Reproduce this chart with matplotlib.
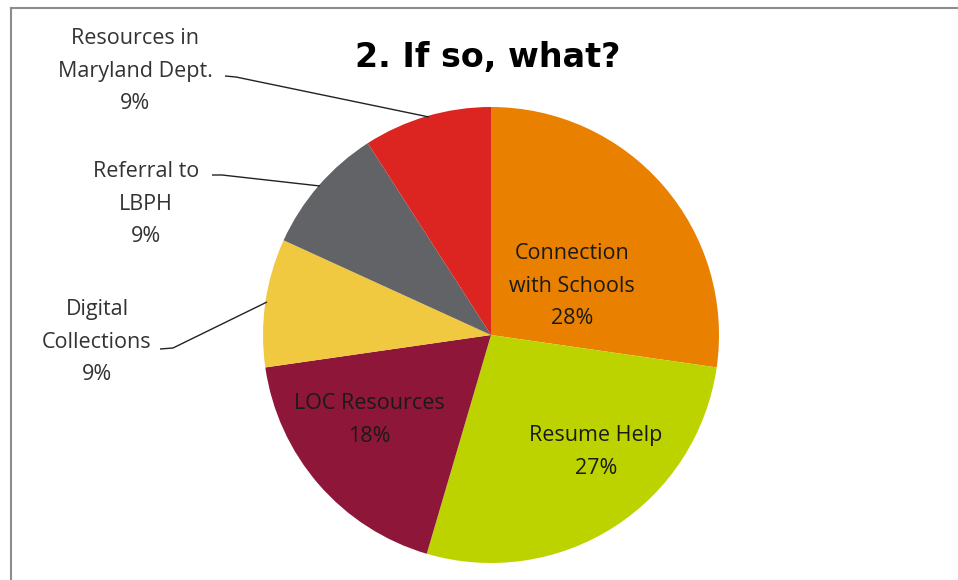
import matplotlib
matplotlib.use("Agg")
import matplotlib.pyplot as plt
from matplotlib.lines import Line2D

categories = ["Connection\nwith Schools", "Resume Help", "LOC Resources",
              "Digital\nCollections", "Referral to\nLBPH", "Resources in\nMaryland Dept."]
# respondent counts (slice angles: 3/11, 3/11, 2/11, 1/11 ...)
values = [3, 3, 2, 1, 1, 1]
pct_labels = ["28%", "27%", "18%", "9%", "9%", "9%"]
colors = ["#EA8000", "#BDD300", "#8E1638", "#F0C940", "#626367", "#DC2420"]
title = "2. If so, what?"

W, H = 958, 580
fig = plt.figure(figsize=(W / 100, H / 100), dpi=100)
ax = fig.add_axes([0, 0, 1, 1])
ax.set_xlim(0, W)
ax.set_ylim(0, H)
ax.set_aspect("equal")
ax.axis("off")

cx, cy, r = 491, H - 335, 228
ax.pie(values, colors=colors, startangle=90, counterclock=False,
       center=(cx, cy), radius=r, wedgeprops=dict(linewidth=0))
ax.set_xlim(0, W)
ax.set_ylim(0, H)

font = "Open Sans"
fs = 15.5
ls = 1.72
tc = "#1a1a1a"
oc = "#333333"

# inside labels
inside = [(0, 572, 286), (1, 596, 452), (2, 369, 420)]
for i, x, y in inside:
    ax.text(x, H - y, categories[i] + "\n" + pct_labels[i],
            ha="center", va="center", fontsize=fs, family=font, color=tc,
            linespacing=ls)

# outside labels
outside = [(5, 135, 71), (4, 146, 204), (3, 97, 342)]
for i, x, y in outside:
    ax.text(x, H - y, categories[i] + "\n" + pct_labels[i],
            ha="center", va="center", fontsize=fs, family=font, color=oc,
            linespacing=ls)

# leader lines
leaders = [
    [(225, 76), (236, 77), (429, 117)],
    [(212, 175), (222, 175), (320, 186)],
    [(160, 349), (173, 348), (267, 302)],
]
for pts in leaders:
    xs = [p[0] for p in pts]
    ys = [H - p[1] for p in pts]
    ax.plot(xs, ys, color="#222222", linewidth=1.0, solid_capstyle="butt")

ax.text(488, H - 67, title, ha="center", va="baseline", fontsize=24,
        fontweight="bold", family="DejaVu Sans", color="#000000")

# chart area border (top and left visible)
fig.add_artist(Line2D([10.5 / W, 1], [1 - 7.5 / H, 1 - 7.5 / H],
                      transform=fig.transFigure, color="#8c8c8c", linewidth=1.5))
fig.add_artist(Line2D([10.5 / W, 10.5 / W], [0, 1 - 7.5 / H],
                      transform=fig.transFigure, color="#8c8c8c", linewidth=1.5))

fig.savefig("out.png", dpi=100)
